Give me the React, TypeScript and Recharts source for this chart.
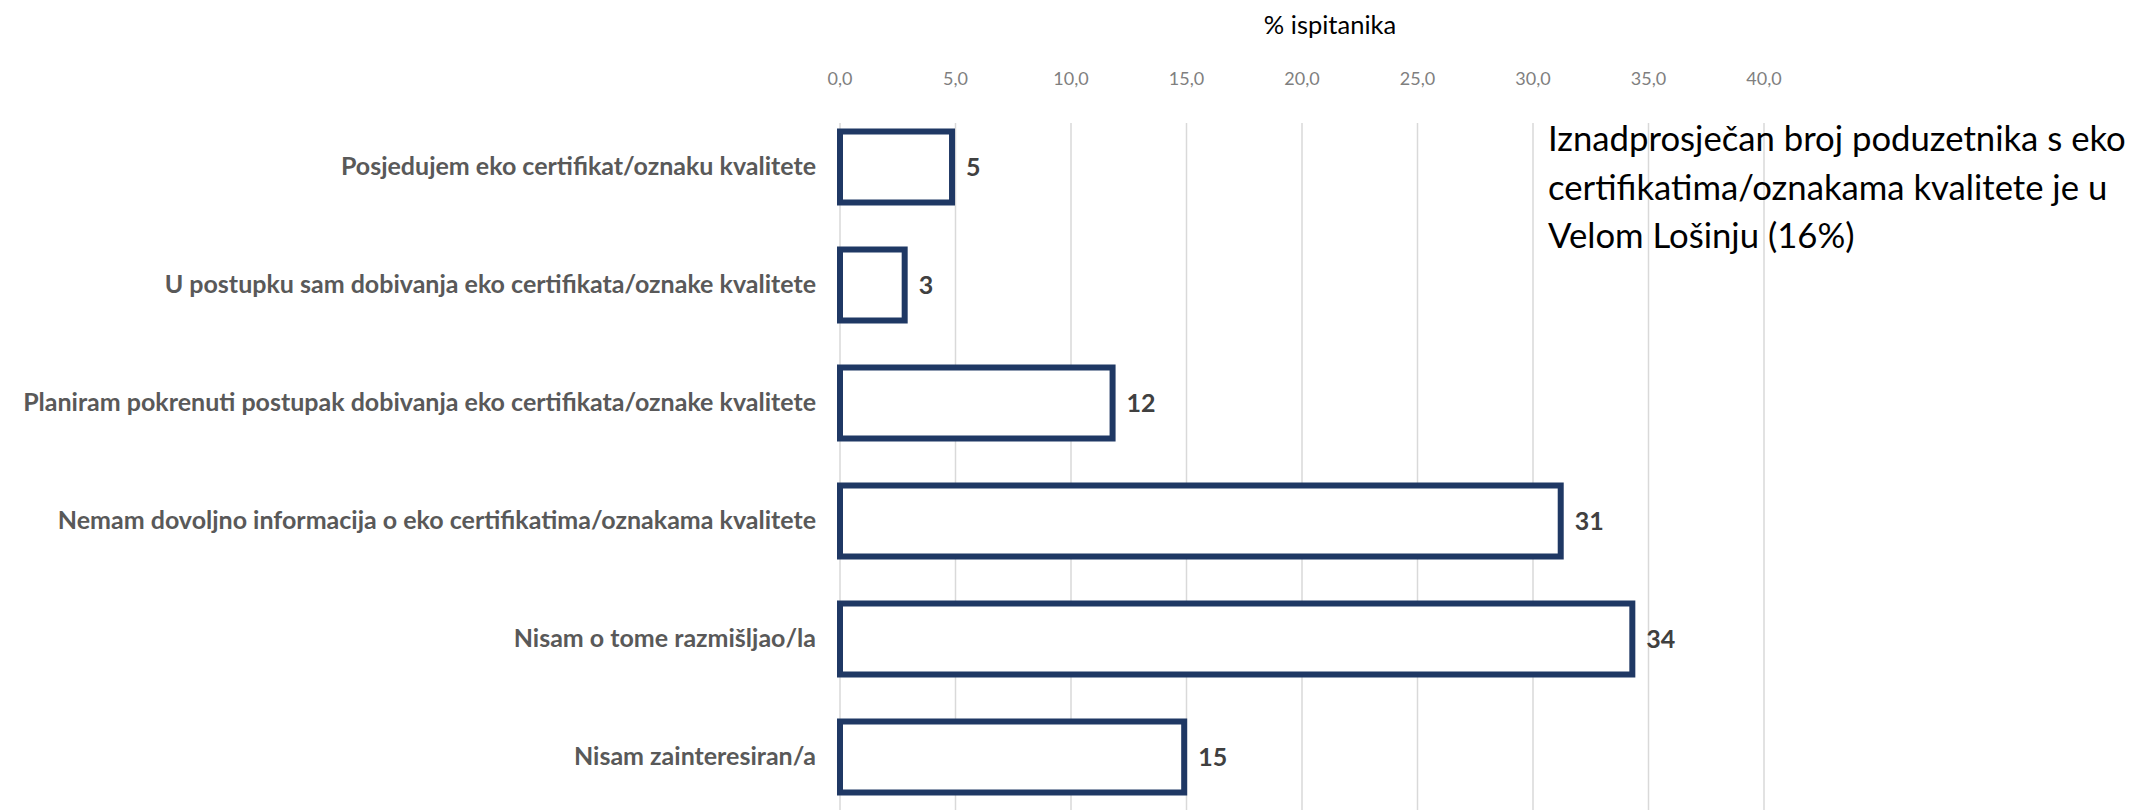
import React from 'react';
import { BarChart, Bar, XAxis, YAxis, CartesianGrid, LabelList } from 'recharts';

const categories = [
  'Posjedujem eko certifikat/oznaku kvalitete',
  'U postupku sam dobivanja eko certifikata/oznake kvalitete',
  'Planiram pokrenuti postupak dobivanja eko certifikata/oznake kvalitete',
  'Nemam dovoljno informacija o eko certifikatima/oznakama kvalitete',
  'Nisam o tome razmišljao/la',
  'Nisam zainteresiran/a',
];
const values = [4.85, 2.8, 11.8, 31.2, 34.3, 14.9];
const xTicks = [0, 5, 10, 15, 20, 25, 30, 35, 40];
const axisTitle = '% ispitanika';
const noteLines = [
  'Iznadprosječan broj poduzetnika s eko',
  'certifikatima/oznakama kvalitete je u',
  'Velom Lošinju (16%)',
];

const data = categories.map((name, i) => ({ name, value: values[i] }));

const FONT = 'Lato, "Open Sans", sans-serif';

const XTick = (props: any) => {
  const { x, y, payload } = props;
  return (
    <text x={x} y={y} dy="0.35em" textAnchor="middle" fill="#7F7F7F" fontSize={18} fontFamily={FONT}>
      {Number(payload.value).toFixed(1).replace('.', ',')}
    </text>
  );
};

const YTick = (props: any) => {
  const { x, y, payload } = props;
  return (
    <text x={x} y={y} dy="0.35em" textAnchor="end" fill="#595959" fontSize={25} fontWeight="bold" fontFamily={FONT}>
      {payload.value}
    </text>
  );
};

export default function App() {
  return (
    <div style={{ position: 'absolute', left: 0, top: 0, width: 2132, height: 810, background: '#fff', overflow: 'hidden', fontFamily: FONT }}>
      <BarChart
        width={2132}
        height={820}
        data={data}
        layout="vertical"
        margin={{ top: 79, right: 368, bottom: 4.5, left: 0 }}
      >
        <CartesianGrid horizontal={false} stroke="#D9D9D9" strokeWidth={1.5} />
        <XAxis
          type="number"
          orientation="top"
          domain={[0, 40]}
          ticks={xTicks}
          height={44}
          axisLine={false}
          tickLine={false}
          tickSize={0}
          tickMargin={44}
          tick={<XTick />}
          interval={0}
        />
        <YAxis
          type="category"
          dataKey="name"
          width={840}
          axisLine={false}
          tickLine={false}
          tickSize={0}
          tickMargin={24}
          padding={{ top: -15.5, bottom: 0 }}
          tick={<YTick />}
          interval={0}
        />
        <Bar dataKey="value" fill="#FFFFFF" stroke="#1F3864" strokeWidth={6} barSize={71} isAnimationActive={false}>
          <LabelList
            dataKey="value"
            position="right"
            offset={14}
            formatter={(v: any) => Math.round(Number(v))}
            style={{ fill: '#404040', fontWeight: 'bold', fontSize: 25, fontFamily: FONT }}
          />
        </Bar>
      </BarChart>
      <div style={{ position: 'absolute', left: 1180, width: 300, top: 9, textAlign: 'center', fontSize: 25.5, color: '#000', lineHeight: '30px' }}>
        {axisTitle}
      </div>
      <div style={{ position: 'absolute', left: 1548, top: 114, fontSize: 34.7, color: '#000', lineHeight: '48.5px', whiteSpace: 'nowrap' }}>
        {noteLines.map((l, i) => (
          <div key={i}>{l}</div>
        ))}
      </div>
    </div>
  );
}
